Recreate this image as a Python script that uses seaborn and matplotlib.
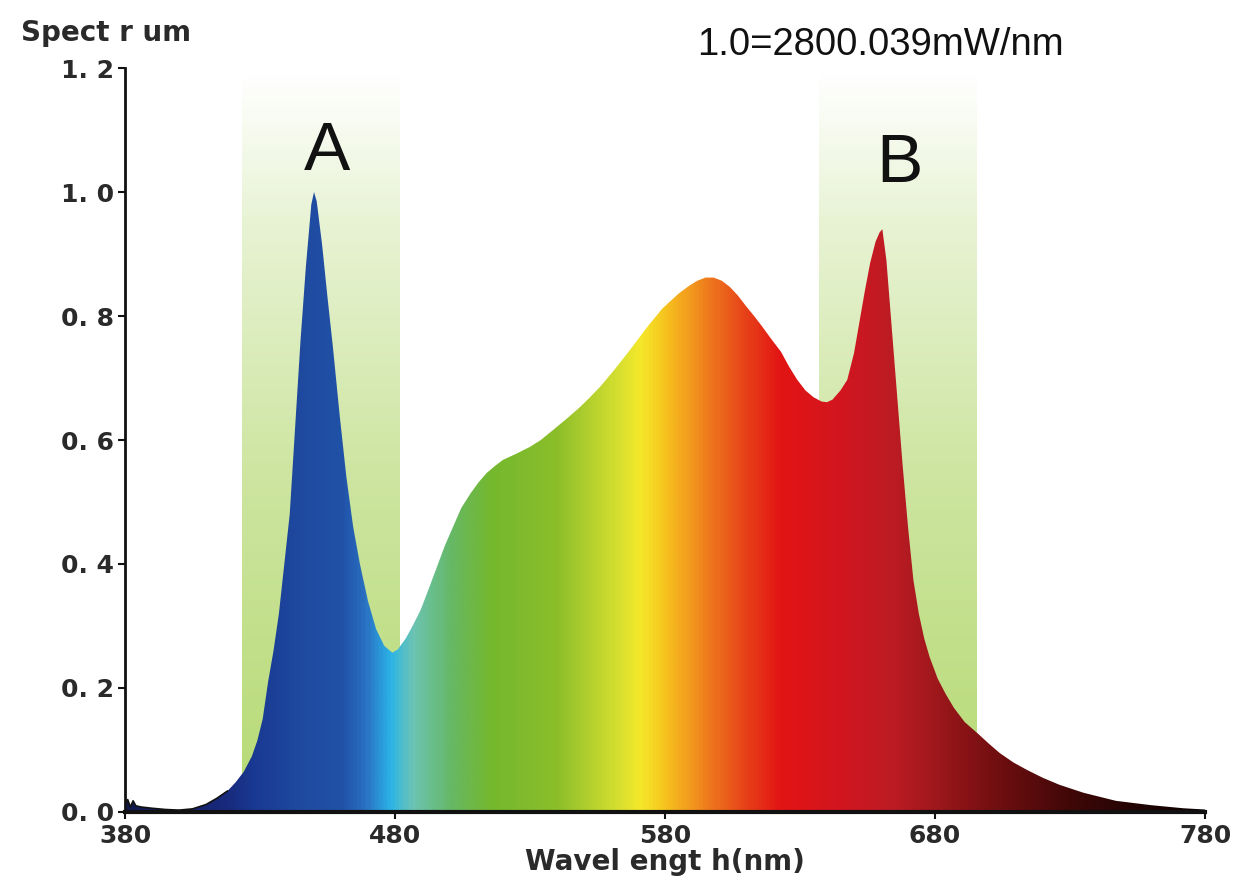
"""Spectrum chart: relative spectral power with two highlighted wavebands."""
import matplotlib

matplotlib.use("Agg")
import matplotlib.pyplot as plt
import numpy as np
import pandas as pd
import seaborn as sns
from matplotlib.colors import LinearSegmentedColormap

# values
WAVELENGTH = [380, 381, 382, 383, 384, 386, 390, 395, 400, 405, 410, 414, 418, 421,
              424, 427, 429, 431, 433, 435, 437, 439, 441, 443, 445, 447, 449, 450,
              451, 453, 455, 457, 459.5, 462, 464.5, 467, 470, 473, 476, 479, 481,
              484, 486.5, 489.5, 492.5, 495.5, 498.5, 501.5, 504.5, 508, 511, 514,
              517, 520, 525, 530, 534, 538.5, 543.5, 548.5, 552, 556, 561, 567, 573,
              579, 585, 589, 592, 595, 598, 601, 604, 607, 610, 613, 616, 619, 623,
              626, 629, 632, 635, 638, 640, 642, 645, 647.5, 650, 652, 654, 656, 658,
              659.5, 660.5, 662, 664, 666, 668, 670, 672, 674, 676, 678, 681, 684,
              687, 691, 696, 700, 704, 709, 714, 720, 726, 735, 747, 760, 772, 780]
INTENSITY = [0.012, 0.02, 0.008, 0.018, 0.01, 0.008, 0.006, 0.004, 0.003, 0.005, 0.012,
             0.022, 0.034, 0.048, 0.065, 0.09, 0.115, 0.15, 0.21, 0.26, 0.32, 0.40,
             0.48, 0.62, 0.76, 0.88, 0.98, 1.0, 0.985, 0.915, 0.83, 0.75, 0.64, 0.54,
             0.46, 0.40, 0.34, 0.295, 0.268, 0.257, 0.262, 0.28, 0.30, 0.326, 0.36,
             0.395, 0.43, 0.46, 0.49, 0.514, 0.532, 0.547, 0.558, 0.568, 0.578, 0.589,
             0.60, 0.616, 0.634, 0.653, 0.668, 0.686, 0.712, 0.745, 0.78, 0.812, 0.836,
             0.849, 0.857, 0.862, 0.862, 0.857, 0.847, 0.833, 0.816, 0.80, 0.783,
             0.765, 0.742, 0.718, 0.697, 0.68, 0.669, 0.662, 0.661, 0.665, 0.68, 0.697,
             0.74, 0.79, 0.84, 0.886, 0.92, 0.935, 0.94, 0.89, 0.78, 0.67, 0.56, 0.46,
             0.374, 0.32, 0.28, 0.25, 0.215, 0.19, 0.168, 0.145, 0.126, 0.11, 0.095,
             0.08, 0.068, 0.055, 0.044, 0.031, 0.018, 0.011, 0.006, 0.004]

BANDS = {"A": (423.5, 482.0), "B": (637.0, 695.5)}
X_TICKS = [380, 480, 580, 680, 780]
Y_TICKS = [0.0, 0.2, 0.4, 0.6, 0.8, 1.0, 1.2]
Y_TICK_LABELS = ["0. 0", "0. 2", "0. 4", "0. 6", "0. 8", "1. 0", "1. 2"]

# colour of the fill along the wavelength axis
SPECTRAL_STOPS = [
    (380, "#101850"), (415, "#18287a"), (428, "#1a3a94"), (445, "#1f4aa0"),
    (460, "#2052a8"), (468, "#2a6ec0"), (478, "#2ab4e8"), (486, "#6cc4b4"),
    (500, "#66b868"), (515, "#74b82e"), (540, "#8cbe2a"), (560, "#cddc30"),
    (571, "#f5e82a"), (580, "#f6c41e"), (587, "#f4a41e"), (600, "#ec6a1c"),
    (612, "#e63a18"), (623, "#e31414"), (647, "#d01620"), (665, "#bc1c24"),
    (685, "#961619"), (705, "#6e0e10"), (730, "#420808"), (755, "#220404"),
    (780, "#0a0000"),
]
BAND_STOPS = [(0.0, "#b6da74"), (0.45, "#cde5a0"), (0.8, "#e8f3d4"), (1.0, "#ffffff")]

TEXT = "#2a2a2a"


def spectral_cmap() -> LinearSegmentedColormap:
    lo, hi = SPECTRAL_STOPS[0][0], SPECTRAL_STOPS[-1][0]
    stops = [((w - lo) / (hi - lo), c) for w, c in SPECTRAL_STOPS]
    return LinearSegmentedColormap.from_list("spectrum", stops)


def main() -> None:
    sns.set_theme(style="ticks")
    plt.rcParams["font.family"] = ["DejaVu Sans"]

    df = pd.DataFrame({"wl": WAVELENGTH, "val": INTENSITY})

    fig = plt.figure(figsize=(12.34, 8.88), dpi=100)
    ax = fig.add_axes([0.1013, 0.0856, 0.8752, 0.8378])
    ax.set_xlim(380, 780)
    ax.set_ylim(0, 1.2)

    # highlighted wavebands, green fading to white
    band_cmap = LinearSegmentedColormap.from_list("band", BAND_STOPS)
    grad = np.linspace(0, 1, 256).reshape(-1, 1)
    for lo, hi in BANDS.values():
        ax.imshow(grad, cmap=band_cmap, origin="lower", aspect="auto",
                  extent=[lo, hi, 0, 1.19], zorder=1, interpolation="bicubic")

    # spectrum area coloured by wavelength
    poly = ax.fill_between(df["wl"], df["val"], 0, facecolor="none",
                           edgecolor="none", zorder=2)
    ramp = np.linspace(0, 1, 800).reshape(1, -1)
    img = ax.imshow(ramp, cmap=spectral_cmap(), origin="lower", aspect="auto",
                    extent=[380, 780, 0, 1.2], zorder=2, interpolation="bicubic")
    img.set_clip_path(poly.get_paths()[0], transform=ax.transData)

    low = df[df["wl"] <= 418]
    sns.lineplot(data=low, x="wl", y="val", color="#111111", lw=1.2, ax=ax,
                 zorder=3, legend=False)

    ax.set_xlim(380, 780)
    ax.set_ylim(0, 1.2)

    sns.despine(ax=ax)
    ax.spines["left"].set_linewidth(2.0)
    ax.spines["bottom"].set_linewidth(3.0)
    ax.spines["left"].set_color("#111111")
    ax.spines["bottom"].set_color("#111111")
    ax.spines["left"].set_zorder(4)
    ax.spines["bottom"].set_zorder(4)

    ax.set_xticks(X_TICKS)
    ax.set_xticklabels([str(t) for t in X_TICKS])
    ax.set_yticks(Y_TICKS)
    ax.set_yticklabels(Y_TICK_LABELS)
    ax.tick_params(axis="both", direction="out", length=5, width=1.5,
                   color="#111111", labelsize=18, labelcolor=TEXT)
    ax.tick_params(axis="y", pad=3)
    ax.tick_params(axis="x", pad=4)
    for lab in ax.get_xticklabels() + ax.get_yticklabels():
        lab.set_fontweight("bold")

    ax.set_xlabel("Wavel engt h(nm)", fontsize=20, fontweight="bold",
                  color=TEXT, labelpad=0)
    ax.set_ylabel("")
    fig.text(0.017, 0.963, "Spect r um", fontsize=20, fontweight="bold",
             color=TEXT, ha="left", va="center")

    fig.text(0.565, 0.949, "1.0=2800.039mW/nm", fontsize=27.5,
             family=["Liberation Sans", "DejaVu Sans"], color="#111111",
             ha="left", va="center")

    label_pos = {"A": (455.0, 1.065), "B": (667.0, 1.045)}
    for name, (xpos, ypos) in label_pos.items():
        ax.text(xpos, ypos, name, fontsize=50,
                family=["Liberation Sans", "DejaVu Sans"],
                color="#111111", ha="center", va="center", zorder=5)

    fig.savefig("out.png", dpi=100, facecolor="white")
    plt.close(fig)


if __name__ == "__main__":
    main()
